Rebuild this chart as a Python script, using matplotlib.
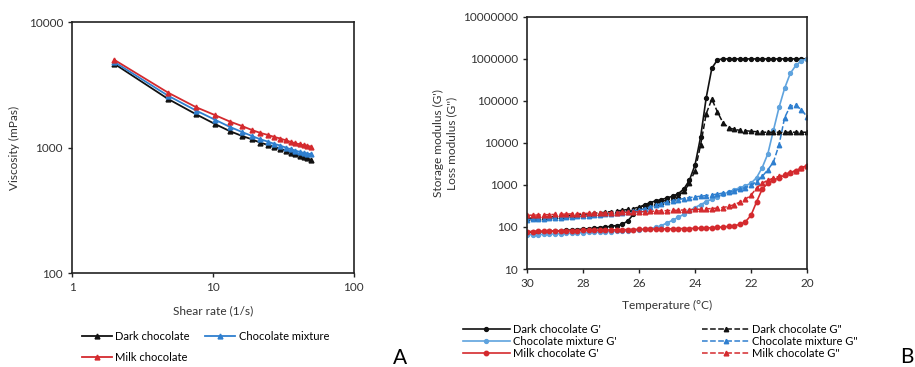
import numpy as np
import matplotlib
matplotlib.use("Agg")
import matplotlib.pyplot as plt
from matplotlib.ticker import FixedLocator, NullLocator, FixedFormatter

plt.rcParams['font.family'] = ['Lato', 'DejaVu Sans']

# ---- panel A: viscosity vs shear rate ----
shear = [2.0, 4.8, 7.6, 10.4, 13.2, 16.0, 18.8, 21.6, 24.4, 27.2,
         30.0, 32.8, 35.6, 38.4, 41.2, 44.0, 46.8, 49.6]
visc_dark = [4640, 2440, 1840, 1535, 1350, 1240, 1165, 1096, 1050, 1012,
             975, 946, 912, 885, 864, 843, 819, 798]
visc_mix = [4800, 2590, 1970, 1660, 1460, 1333, 1240, 1165, 1117, 1070,
            1037, 1000, 970, 946, 924, 908, 896, 885]
visc_milk = [4990, 2740, 2095, 1808, 1610, 1487, 1383, 1309, 1262, 1216,
             1180, 1143, 1109, 1082, 1063, 1045, 1032, 1018]

# ---- panel B: moduli vs temperature (30 -> 20 C, step 0.2) ----
temp = [round(30 - 0.2 * i, 1) for i in range(51)]
dark_gp = [75, 76, 77, 78, 79, 80, 82, 83, 85, 87, 89, 91, 94, 97, 100, 104,
           108, 115, 140, 200, 290, 340, 380, 420, 450, 490, 540, 620, 800,
           1300, 3000, 14000, 120000, 600000, 950000, 1000000,
           1000000, 1000000, 1000000, 1000000, 1000000, 1000000, 1000000,
           1000000, 1000000, 1000000, 1000000, 1000000, 1000000, 1000000,
           1000000]
dark_gpp = [160, 163, 166, 170, 174, 178, 182, 186, 190, 195, 200, 206, 212,
            218, 225, 232,
            240, 250, 262, 275, 300, 320, 345, 370, 400, 440, 490, 560, 700,
            1100, 2200, 9000, 50000, 110000, 55000, 30000,
            23000, 21000, 20000, 19500, 19000, 18500, 18000, 18000, 18000,
            18000, 18000, 18000, 18000, 18000, 18000]
mix_gp = [65, 66, 66, 67, 68, 68, 69, 70, 71, 72, 73, 74, 75, 76, 77, 78,
          79, 80, 81, 83, 85, 88, 92, 98, 108, 125, 145, 170, 200, 240, 290,
          340, 400, 460, 530, 600,
          680, 770, 860, 960, 1100, 1500, 2600, 5500, 20000, 70000, 200000,
          450000, 700000, 900000, 1000000]
mix_gpp = [150, 152, 155, 158, 161, 164, 167, 170, 174, 178, 182, 186, 190,
           195, 200, 206,
           212, 218, 225, 235, 250, 275, 300, 330, 360, 390, 420, 450, 475,
           500, 520, 540, 560, 580, 610, 640,
           680, 730, 790, 870, 980, 1200, 1600, 2300, 3500, 9000, 40000,
           75000, 78000, 62000, 42000]
milk_gp = [78, 78, 79, 79, 80, 80, 81, 81, 82, 82, 83, 83, 84, 84, 85, 85,
           86, 86, 87, 87, 88, 88, 89, 89, 90, 90, 91, 91, 92, 92, 93, 94, 95,
           96, 98, 100,
           103, 107, 115, 133, 190, 400, 800, 1100, 1300, 1500, 1700, 1900,
           2200, 2550, 2900]
milk_gpp = [190, 191, 193, 195, 197, 199, 201, 203, 205, 207, 209, 211, 213,
            215, 217, 219,
            221, 223, 225, 228, 230, 233, 236, 239, 242, 245, 248, 251, 254,
            258, 262, 265, 270, 275, 282, 290,
            310, 340, 390, 460, 570, 850, 1100, 1300, 1450, 1600, 1800, 2000,
            2200, 2550, 2900]

BLACK = '#111111'
BLUE = '#2f7fcf'
LBLUE = '#5fa3de'
RED = '#d42a2e'

fig = plt.figure(figsize=(9.15, 3.67), dpi=100)

axA = fig.add_axes([0.0787, 0.256, 0.308, 0.684])
axA.plot(shear, visc_dark, '-^', color=BLACK, ms=3.5, lw=1.3, label='Dark chocolate')
axA.plot(shear, visc_mix, '-^', color=BLUE, ms=3.5, lw=1.3, label='Chocolate mixture')
axA.plot(shear, visc_milk, '-^', color=RED, ms=3.5, lw=1.3, label='Milk chocolate')
axA.set_xscale('log')
axA.set_yscale('log')
axA.set_xlim(1, 100)
axA.set_ylim(100, 10000)
axA.xaxis.set_major_locator(FixedLocator([1, 10, 100]))
axA.xaxis.set_major_formatter(FixedFormatter(['1', '10', '100']))
axA.yaxis.set_major_locator(FixedLocator([100, 1000, 10000]))
axA.yaxis.set_major_formatter(FixedFormatter(['100', '1000', '10000']))
axA.xaxis.set_minor_locator(NullLocator())
axA.yaxis.set_minor_locator(NullLocator())
axA.set_xlabel('Shear rate (1/s)', fontsize=8.6, color='#333333', labelpad=9)
axA.set_ylabel('Viscosity (mPas)', fontsize=8.6, color='#333333', labelpad=6)

axB = fig.add_axes([0.576, 0.267, 0.306, 0.687])
axB.plot(temp, dark_gp, '-o', color=BLACK, ms=2.8, lw=1.2, label="Dark chocolate G'")
axB.plot(temp, mix_gp, '-o', color=LBLUE, ms=2.8, lw=1.2, label="Chocolate mixture G'")
axB.plot(temp, milk_gp, '-o', color=RED, ms=3.2, lw=1.2, label="Milk chocolate G'")
axB.plot(temp, dark_gpp, '--^', color=BLACK, ms=3.2, lw=1.1, label='Dark chocolate G"')
axB.plot(temp, mix_gpp, '--^', color=BLUE, ms=3.2, lw=1.1, label='Chocolate mixture G"')
axB.plot(temp, milk_gpp, '--^', color=RED, ms=3.4, lw=1.1, label='Milk chocolate G"')
axB.set_yscale('log')
axB.set_xlim(30, 20)
axB.set_ylim(10, 1e7)
axB.xaxis.set_major_locator(FixedLocator([30, 28, 26, 24, 22, 20]))
ydec = [10, 100, 1000, 10000, 100000, 1000000, 10000000]
axB.yaxis.set_major_locator(FixedLocator(ydec))
axB.yaxis.set_major_formatter(FixedFormatter([str(v) for v in ydec]))
axB.yaxis.set_minor_locator(NullLocator())
axB.set_xlabel('Temperature (\u00b0C)', fontsize=8.6, color='#333333', labelpad=8)
axB.set_ylabel("Storage modulus (G')\nLoss modulus (G'')", fontsize=8.6,
               color='#333333', labelpad=4, linespacing=1.25)

for ax in (axA, axB):
    for sp in ax.spines.values():
        sp.set_linewidth(1.2)
        sp.set_color('#222222')
    ax.tick_params(axis='both', which='major', labelsize=8.5, length=3,
                   width=1, direction='out', colors='#222222',
                   labelcolor='#333333')

# row-wise order like the original: Dark, Mixture / Milk
hA, lA = axA.get_legend_handles_labels()
order = [0, 2, 1]
fig.legend([hA[i] for i in order], [lA[i] for i in order], loc='upper left',
           bbox_to_anchor=(0.0897, 0.098),
           ncol=2, frameon=False, fontsize=8, handlelength=2.7,
           handletextpad=0.3, columnspacing=1.4, labelspacing=0.9,
           borderpad=0, borderaxespad=0, numpoints=1)

hB, lB = axB.get_legend_handles_labels()
fig.legend(hB, lB, loc='upper left', bbox_to_anchor=(0.506, 0.118),
           ncol=2, frameon=False, fontsize=8, handlelength=4.2,
           handletextpad=0.3, columnspacing=7.7, labelspacing=0.12,
           borderpad=0, borderaxespad=0, numpoints=1)

fig.text(400 / 915, 1 - 358 / 367, 'A', fontsize=15, ha='center', va='center')
fig.text(907 / 915, 1 - 357 / 367, 'B', fontsize=15, ha='center', va='center')

fig.savefig('out.png', dpi=100)
